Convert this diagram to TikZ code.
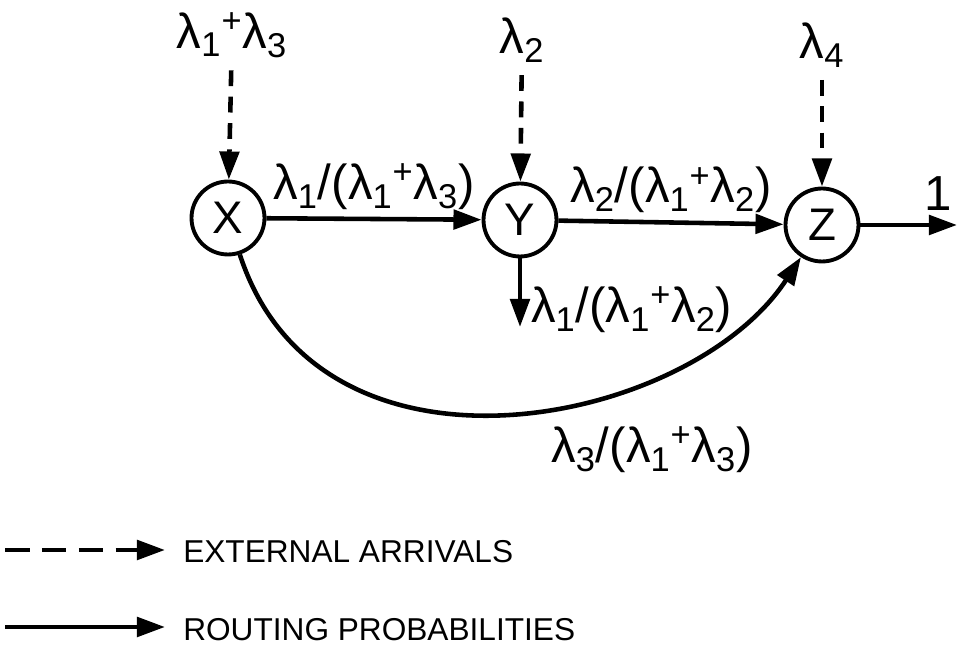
\documentclass[tikz,border=0pt]{standalone}
\usepackage{fontspec}
\setmainfont{Liberation Sans}
\usetikzlibrary{arrows.meta}

\newcommand{\lam}[1]{λ\textsubscript{#1}}
\newcommand{\plus}{\textsuperscript{+}}

\begin{document}
\begin{tikzpicture}[x=0.02cm, y=0.02cm, >={Triangle[length=16pt,width=11pt]}, line width=2.6pt,
  queue/.style={circle, draw, line width=2.2pt, minimum size=1.46cm, inner sep=0pt, font=\fontsize{26}{28}\selectfont},
  rate/.style={font=\fontsize{28}{30}\selectfont, inner sep=1pt},
  arrival/.style={->, dash pattern=on 9pt off 6pt, shorten <=5pt},
  route/.style={->},
  legend/.style={font=\fontsize{18}{20}\selectfont, anchor=west, inner sep=0pt}]
  \useasboundingbox (0,0) rectangle (958,652);

  % Queues
  \node[queue] (X) at (228,434) {X};
  \node[queue] (Y) at (520,432) {Y};
  \node[queue] (Z) at (822,427) {Z};

  % External arrivals
  \node[rate] (ax) at (232,617) {\lam1\plus\lam3};
  \node[rate] (ay) at (522,612) {\lam2};
  \node[rate] (az) at (822,607) {\lam4};
  \draw[arrival] (ax) -- (X);
  \draw[arrival] (ay) -- (Y);
  \draw[arrival] (az) -- (Z);

  % Routing
  \coordinate (yout) at (520,325);
  \coordinate (zout) at (957,427);
  \draw[route] (X) -- (Y) node[rate, midway, above=3pt] (pxy) {\lam1/(\lam1\plus\lam3)};
  \draw[route] (Y) -- (Z) node[rate, midway, above=3pt] (pyz) {\lam2/(\lam1\plus\lam2)};
  \draw[route] (Y) -- (yout);
  \node[rate, anchor=west] (pyo) at (527,342) {\lam1/(\lam1\plus\lam2)};
  \draw[route] (Z) -- (zout) node[rate, pos=0.8, above=6pt] (pzo) {1};
  \draw[route] (X) .. controls (320,150) and (690,225) .. (Z);
  \node[rate] (pxz) at (652,202) {\lam3/(\lam1\plus\lam3)};

  % Legend
  \coordinate (l1a) at (5,102);
  \coordinate (l1b) at (165,102);
  \coordinate (l2a) at (5,25);
  \coordinate (l2b) at (165,25);
  \draw[->, dash pattern=on 14pt off 7pt] (l1a) -- (l1b);
  \draw[->] (l2a) -- (l2b);
  \node[legend] (le) at (181,100) {EXTERNAL ARRIVALS};
  \node[legend] (lr) at (181,22) {ROUTING PROBABILITIES};
\end{tikzpicture}
\end{document}
